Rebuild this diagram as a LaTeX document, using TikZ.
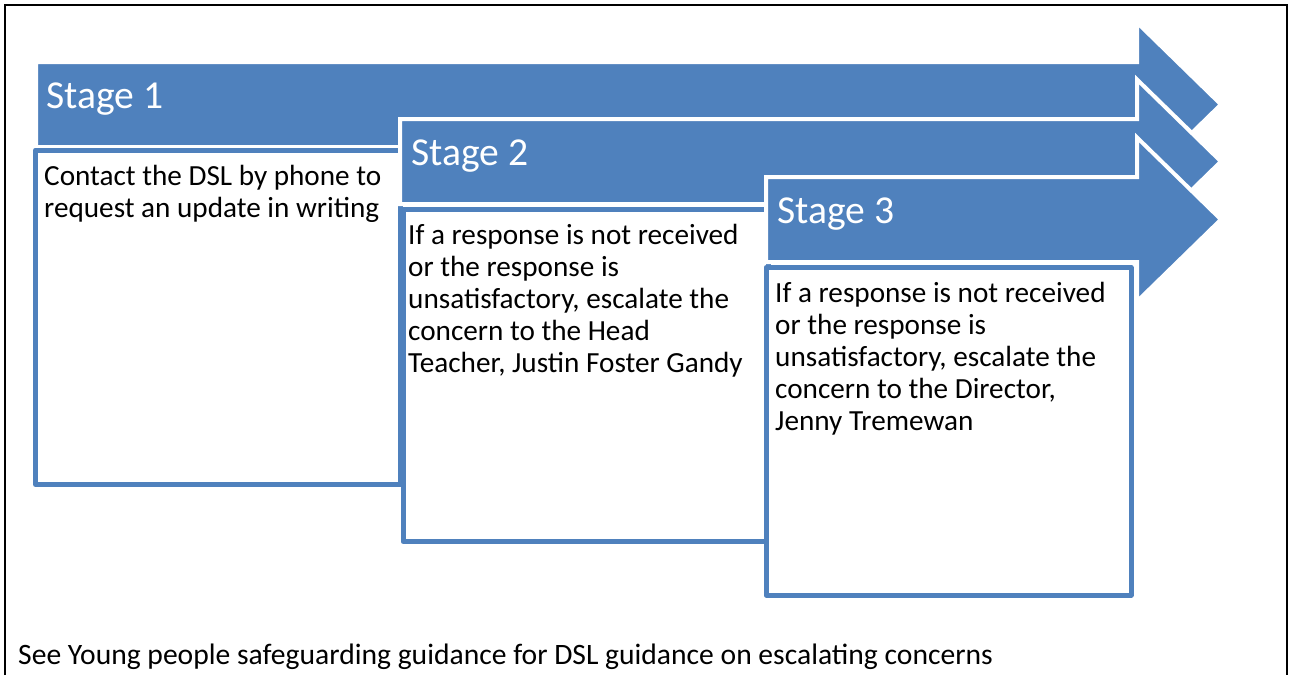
\documentclass[tikz,border=0pt]{standalone}
\usepackage{fontspec}
\setmainfont{Carlito}
\definecolor{accent}{HTML}{4F81BD}
\tikzset{
  stagearrow/.style={fill=accent, draw=white, line width=4pt, line join=miter},
  stagebox/.style={fill=white, draw=accent, line width=5pt, line join=round},
  stagelabel/.style={anchor=base west, inner sep=0pt, text=white, font=\fontsize{39.6}{46}\selectfont},
  boxtext/.style={anchor=north west, inner sep=0pt, align=left, font=\fontsize{29.2}{32}\selectfont},
  notetext/.style={anchor=base west, inner sep=0pt, font=\fontsize{29.6}{32}\selectfont},
  frame/.style={draw=black, line width=2pt},
}
\begin{document}
\begin{tikzpicture}[x=1pt, y=-1pt]
\useasboundingbox (0,0) rectangle (1289,675);
% outer frame (open at the bottom)
\draw[frame] (5,675) -- (5,5) -- (1286.5,5) -- (1286.5,675);

% Stage 1
\draw[stagearrow] (36,62) -- (1137,62) -- (1137,22.5) -- (1221,104.5) -- (1137,186.5) -- (1137,147) -- (36,147) -- cycle;
\node[stagelabel] (s1) at (46,108.5) {Stage 1};
\draw[stagebox] (35.5,150) rectangle (400.5,484.5);
\node[boxtext] (t1) at (44,162.4) {\strut Contact the DSL by phone to\\request an update in writing};

% Stage 2
\draw[stagearrow] (400,119) -- (1137,119) -- (1137,79.5) -- (1221,161.5) -- (1137,243.5) -- (1137,204) -- (400,204) -- cycle;
\node[stagelabel] (s2) at (411,165.5) {Stage 2};
\draw[stagebox] (403,209) rectangle (768,541.5);
\node[boxtext] (t2) at (408,221.4) {\strut If a response is not received\\or the response is\\unsatisfactory, escalate the\\concern to the Head\\Teacher, Justin Foster Gandy};

% Stage 3
\draw[stagearrow] (766,177) -- (1137,177) -- (1137,137.5) -- (1221,219.5) -- (1137,301.5) -- (1137,262) -- (766,262) -- cycle;
\node[stagelabel] (s3) at (777,223.5) {Stage 3};
\draw[stagebox] (766,267.5) rectangle (1131,595);
\node[boxtext] (t3) at (775,279.4) {\strut If a response is not received\\or the response is\\unsatisfactory, escalate the\\concern to the Director,\\Jenny Tremewan};

% footnote
\node[notetext] (note) at (18,664) {See Young people safeguarding guidance for DSL guidance on escalating concerns};
\end{tikzpicture}
\end{document}
